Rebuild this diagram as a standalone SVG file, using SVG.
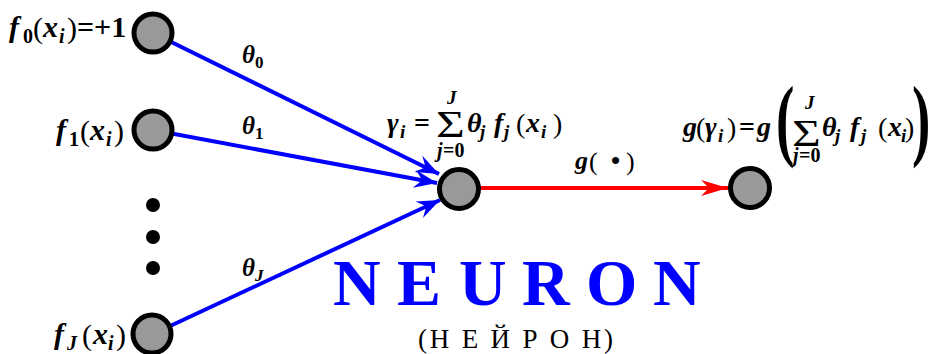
<svg xmlns="http://www.w3.org/2000/svg" width="929" height="354" viewBox="0 0 929 354">
<style>
.t{font-family:"Liberation Serif","Times New Roman",serif;font-weight:bold;fill:#000}
.r{font-family:"Liberation Serif","Times New Roman",serif;font-weight:normal;fill:#000}
.i{font-style:italic}
.p{font-weight:normal;font-style:normal}
.sub{font-size:20px}
.node{fill:#999;stroke:#000;stroke-width:5}
.blue{stroke:#0000ff;stroke-width:4;fill:none;marker-end:url(#ab)}
.red{stroke:#ff0000;stroke-width:4;fill:none;marker-end:url(#ar)}
</style>
<defs>
<marker id="ab" markerUnits="userSpaceOnUse" viewBox="-24 -10 26 20" refX="0" refY="0" markerWidth="26" markerHeight="20" orient="auto" overflow="visible">
<path d="M0,0 L-23,-9 L-15,0 L-23,9 Z" fill="#0000ff"/>
</marker>
<marker id="ar" markerUnits="userSpaceOnUse" viewBox="-28 -10 30 20" refX="0" refY="0" markerWidth="30" markerHeight="20" orient="auto" overflow="visible">
<path d="M0,0 L-27,-8 L-19,0 L-27,8 Z" fill="#ff0000"/>
</marker>
</defs>
<rect width="929" height="354" fill="#fff"/>
<g id="connectors">
<path class="blue" d="M153,33 L439,174"/>
<path class="blue" d="M153,130 L437,183"/>
<path class="blue" d="M153,334 L440,200"/>
<path class="red" d="M459,188 L728,188"/>
</g>
<g id="node-f0"><circle class="node" cx="153" cy="33" r="19"/></g>
<g id="node-f1"><circle class="node" cx="153" cy="130" r="19"/></g>
<g id="node-fJ"><circle class="node" cx="152" cy="334" r="19"/></g>
<g id="node-sum"><circle class="node" cx="459" cy="189" r="19.5"/></g>
<g id="node-out"><circle class="node" cx="750" cy="188" r="19.5"/></g>
<g id="dots">
<circle cx="153" cy="205" r="7"/>
<circle cx="153" cy="237" r="7"/>
<circle cx="153" cy="268" r="7"/>
</g>
<g id="labels">
<text class="t" font-size="30"><tspan class="i" x="9" y="37">f</tspan><tspan class="sub" x="23" y="43">0</tspan><tspan class="p" x="33" y="38">(</tspan><tspan class="i" x="43" y="37">x</tspan><tspan class="i sub" x="59" y="43">i</tspan><tspan class="p" x="67" y="38">)</tspan><tspan x="77" y="37">=+1</tspan></text>
<text class="t" font-size="30"><tspan class="i" x="56" y="140">f</tspan><tspan class="sub" x="69" y="146">1</tspan><tspan class="p" x="80" y="141">(</tspan><tspan class="i" x="90" y="140">x</tspan><tspan class="i sub" x="106" y="146">i</tspan><tspan class="p" x="114" y="141">)</tspan></text>
<text class="t" font-size="30"><tspan class="i" x="54" y="344">f</tspan><tspan class="i sub" x="67" y="350">J</tspan><tspan class="p" x="82" y="345">(</tspan><tspan class="i" x="93" y="344">x</tspan><tspan class="i sub" x="108" y="350">i</tspan><tspan class="p" x="116" y="345">)</tspan></text>
<text class="t i" font-size="25"><tspan x="242" y="63">θ</tspan><tspan font-style="normal" font-size="17" x="255" y="68">0</tspan></text>
<text class="t i" font-size="25"><tspan x="242" y="134">θ</tspan><tspan font-style="normal" font-size="17" x="255" y="139">1</tspan></text>
<text class="t i" font-size="25"><tspan x="242" y="276">θ</tspan><tspan font-size="17" x="255" y="281">J</tspan></text>
<text class="t" font-size="28"><tspan class="i" x="387" y="132">γ</tspan><tspan class="i" font-size="19" x="400" y="138">i</tspan><tspan x="414" y="132">=</tspan><tspan class="i" x="467" y="132">θ</tspan><tspan class="i" font-size="19" x="480" y="138">j</tspan><tspan class="i" x="494" y="132">f</tspan><tspan class="i" font-size="19" x="504" y="138">j</tspan><tspan class="p" x="516" y="133">(</tspan><tspan class="i" x="526" y="132">x</tspan><tspan class="i" font-size="19" x="541" y="138">i</tspan><tspan class="p" x="553" y="133">)</tspan></text>
<text class="r" font-size="38" transform="translate(436,137) scale(1.3,1)">Σ</text>
<text class="t i" font-size="19" x="447" y="104">J</text>
<text class="t" font-size="20"><tspan class="i" x="437" y="157">j</tspan><tspan x="443" y="157">=0</tspan></text>
<text class="t" font-size="26"><tspan class="i" x="575" y="169">g</tspan><tspan class="p" x="589" y="170">(</tspan><tspan x="611" y="169">•</tspan><tspan class="p" x="626" y="170">)</tspan></text>
<text class="t" font-size="28"><tspan class="i" x="683" y="136">g</tspan><tspan class="p" x="696" y="137">(</tspan><tspan class="i" x="705" y="136">γ</tspan><tspan class="i" font-size="19" x="718" y="142">i</tspan><tspan class="p" x="727" y="137">)</tspan><tspan x="739" y="136">=</tspan><tspan class="i" x="757" y="136">g</tspan></text>
<text class="t" font-size="92" transform="translate(776,149) scale(0.6,1)">(</text>
<text class="t" font-size="92" transform="translate(912,149) scale(0.6,1)">)</text>
<text class="r" font-size="38" transform="translate(792,146) scale(1.3,1)">Σ</text>
<text class="t i" font-size="19" x="805" y="109">J</text>
<text class="t" font-size="28"><tspan class="i" x="822" y="136">θ</tspan><tspan class="i" font-size="19" x="835" y="142">j</tspan><tspan class="i" x="850" y="136">f</tspan><tspan class="i" font-size="19" x="861" y="142">j</tspan><tspan class="p" x="878" y="137">(</tspan><tspan class="i" x="888" y="136">x</tspan><tspan class="i" font-size="19" x="901" y="142">i</tspan><tspan class="p" x="905" y="137">)</tspan></text>
<text class="t" font-size="20"><tspan class="i" x="793" y="162">j</tspan><tspan x="799" y="162">=0</tspan></text>
<text class="t" font-size="66" style="fill:#0000ff" x="333 397 459 522 586 653" y="305">NEURON</text>
<text class="r" font-size="27" x="418" y="348" textLength="195" lengthAdjust="spacing">(Н Е Й Р О Н)</text>
</g>
</svg>
